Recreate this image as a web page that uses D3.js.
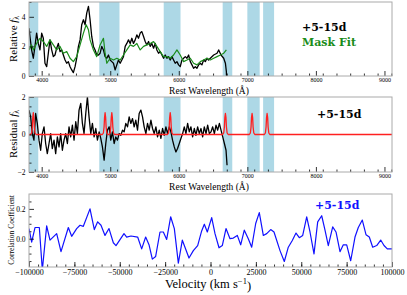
<!DOCTYPE html>
<html>
<head>
<meta charset="utf-8">
<script src="https://cdn.jsdelivr.net/npm/d3@7"></script>
<style>
  body { margin: 0; background: #fff; }
  svg { display: block; font-family: 'Liberation Serif', serif; }
  .spine { fill: none; stroke: #aaa; stroke-width: 1; }
  .axis .domain { display: none; }
  .axis line { stroke: #000; stroke-width: 0.8; }
  .axis text { fill: #000; font-family: 'Liberation Serif', serif; }
  .tag { font-family: 'DejaVu Serif', serif; font-weight: bold; font-size: 11px; }
</style>
</head>
<body>
<svg id="chart" width="407" height="295"></svg>
<script>
// masked regions (Angstrom)
const maskBands = [[3815, 3950], [4840, 5135], [5780, 6025], [6640, 6780], [7000, 7180], [7230, 7390]]

// observed spectrum, relative f_lambda
const spectrum = [
  [3814, 3.23], [3829, 2.67], [3853, 1.76], [3878, 1.2], [3902, 2.0], [3926, 2.9], [3951, 2.2], [3975, 1.76],
  [4000, 2.9], [4024, 2.55], [4048, 0.86], [4073, 0.63], [4097, 1.54], [4121, 2.44], [4146, 1.76], [4170, 1.31],
  [4194, 1.42], [4219, 1.88], [4243, 2.2], [4268, 1.65], [4292, 1.76], [4316, 1.42], [4341, 1.08], [4365, 0.86],
  [4389, 0.97], [4414, 0.63], [4438, 0.41], [4462, 0.23], [4487, 0.63], [4511, 1.2], [4536, 2.0], [4560, 2.44],
  [4584, 3.46], [4609, 3.8], [4633, 3.46], [4657, 4.25], [4682, 4.7], [4706, 3.8], [4730, 2.67], [4755, 2.0],
  [4779, 1.76], [4803, 1.42], [4828, 1.42], [4852, 1.54], [4877, 2.0], [4901, 1.76], [4925, 1.31], [4950, 1.2],
  [4974, 1.42], [4998, 1.08], [5023, 0.97], [5047, 0.86], [5071, 0.41], [5096, 0.75], [5120, 1.08], [5145, 0.86],
  [5169, 1.08], [5193, 1.31], [5218, 2.0], [5242, 2.2], [5266, 2.44], [5291, 2.2], [5315, 2.55], [5339, 2.2],
  [5364, 2.44], [5388, 2.78], [5412, 2.55], [5437, 2.9], [5461, 3.0], [5486, 2.67], [5510, 2.33], [5534, 2.1],
  [5559, 2.33], [5583, 2.0], [5607, 2.2], [5632, 1.88], [5656, 2.2], [5680, 1.76], [5705, 1.54], [5729, 1.65],
  [5754, 1.42], [5778, 1.2], [5802, 1.42], [5827, 1.2], [5851, 1.31], [5875, 1.08], [5900, 1.31], [5924, 1.08],
  [5948, 0.86], [5973, 0.97], [5997, 0.75], [6021, 0.63], [6046, 1.08], [6070, 1.2], [6095, 1.31], [6119, 1.2],
  [6143, 1.42], [6168, 0.97], [6192, 0.75], [6216, 0.52], [6241, 0.63], [6265, 0.52], [6289, 0.75], [6314, 0.86],
  [6338, 0.75], [6362, 1.08], [6387, 0.97], [6411, 1.2], [6435, 1.08], [6460, 1.2], [6509, 1.42], [6558, 1.54],
  [6582, 1.76], [6616, 1.42], [6655, 1.2], [6680, 0.86], [6694, 0.3], [6697, -0.2]
]

// mask fit
const maskFit = [
  [3814, 1.76], [3853, 2.1], [3878, 1.76], [3926, 2.2], [3975, 2.55], [4024, 2.33], [4073, 2.0], [4121, 2.44],
  [4170, 2.1], [4219, 1.76], [4268, 2.0], [4316, 1.54], [4365, 1.65], [4414, 1.2], [4462, 0.97], [4511, 1.31],
  [4560, 2.1], [4609, 2.9], [4649, 3.46], [4682, 3.12], [4706, 2.44], [4755, 1.76], [4803, 1.31], [4852, 2.1],
  [4901, 2.55], [4925, 1.54], [4950, 0.86], [4998, 1.2], [5047, 1.08], [5096, 1.2], [5145, 1.08], [5193, 1.42],
  [5242, 1.76], [5291, 2.1], [5339, 2.0], [5388, 2.2], [5437, 1.76], [5486, 2.0], [5534, 2.1], [5583, 2.2],
  [5632, 2.33], [5680, 2.0], [5729, 1.65], [5778, 1.31], [5827, 1.31], [5875, 1.2], [5924, 1.42], [5973, 1.76],
  [6021, 1.42], [6070, 0.97], [6119, 1.08], [6168, 1.2], [6216, 0.86], [6265, 0.75], [6314, 0.97], [6362, 1.08],
  [6411, 1.2], [6460, 1.08], [6509, 1.2], [6558, 1.31], [6607, 1.42], [6656, 1.54], [6694, 1.76]
]

// residual f_lambda
const residual = [
  [3814, 1.3], [3839, 0.94], [3863, 0.05], [3887, -0.3], [3912, 1.12], [3936, 0.59], [3961, -0.3], [3985, -0.84],
  [4009, 0.05], [4034, 0.41], [4058, -0.48], [4082, -1.02], [4107, -0.48], [4131, 0.05], [4155, -0.75], [4180, -0.3],
  [4204, -1.02], [4229, -0.13], [4253, -0.66], [4277, 0.05], [4302, -0.84], [4326, -0.3], [4350, 0.05], [4375, -0.48],
  [4399, 0.41], [4423, -0.13], [4448, 0.5], [4472, -0.3], [4497, 0.68], [4521, 0.05], [4545, 1.3], [4570, 1.66],
  [4594, 0.59], [4618, 0.05], [4643, 1.12], [4667, 2.0], [4691, 0.94], [4716, 0.05], [4740, 0.59], [4765, -0.13],
  [4789, 0.32], [4813, -0.3], [4838, 0.14], [4862, -0.21], [4886, -0.66], [4911, -1.37], [4935, -0.48], [4959, 0.23],
  [4984, 0.41], [5008, -0.3], [5032, 0.14], [5057, -0.48], [5081, -0.13], [5105, -0.3], [5130, 0.05], [5154, -0.04],
  [5179, 0.23], [5203, 0.14], [5227, 0.59], [5252, 0.41], [5276, 0.94], [5300, 0.59], [5325, 0.85], [5349, 0.41],
  [5373, 0.76], [5398, 0.23], [5422, 1.12], [5447, 1.3], [5471, 0.94], [5495, 0.41], [5520, 0.05], [5544, 0.59],
  [5568, 0.23], [5593, 0.76], [5617, 0.32], [5641, 0.05], [5666, 0.41], [5690, -0.13], [5715, 0.23], [5739, -0.21],
  [5763, 0.32], [5788, -0.04], [5812, 0.41], [5836, 0.05], [5861, 0.41], [5885, 0.14], [5909, -0.3], [5934, -0.66],
  [5958, -0.93], [5982, -0.75], [6007, -0.48], [6031, -0.21], [6056, 0.05], [6080, 0.41], [6104, 0.05], [6129, 0.59],
  [6153, 0.14], [6177, 0.41], [6202, -0.13], [6226, 0.32], [6250, -0.04], [6275, 0.41], [6299, 0.05], [6324, 0.32],
  [6348, -0.13], [6372, 0.41], [6397, 0.05], [6421, 0.5], [6446, 0.05], [6470, 0.14], [6494, 0.41], [6519, 0.05],
  [6543, 0.5], [6567, 0.23], [6592, 0.59], [6616, 0.23], [6641, -0.13], [6665, -0.48], [6689, -0.84], [6704, -1.64]
]

// line template used for the cross-correlation
const template = [
  [3815, 0], [3838, 0], [3853, 0.08], [3863, 0.4], [3870, 0.9], [3878, 1.16], [3886, 0.9], [3893, 0.4], [3903, 0.08], [3918, 0],
  [4885, 0], [4900, 0.08], [4910, 0.4], [4917, 0.9], [4925, 1.16], [4933, 0.9], [4940, 0.4], [4950, 0.08], [4965, 0],
  [4983, 0], [4998, 0.08], [5008, 0.4], [5015, 0.9], [5023, 1.16], [5031, 0.9], [5038, 0.4], [5048, 0.08], [5063, 0],
  [5835, 0], [5850, 0.08], [5860, 0.4], [5867, 0.9], [5875, 1.16], [5883, 0.9], [5890, 0.4], [5900, 0.08], [5915, 0],
  [6640, 0], [6655, 0.08], [6665, 0.4], [6672, 0.9], [6680, 1.12], [6688, 0.9], [6695, 0.4], [6705, 0.08], [6720, 0],
  [7029, 0], [7044, 0.08], [7054, 0.4], [7061, 0.9], [7069, 1.12], [7077, 0.9], [7084, 0.4], [7094, 0.08], [7109, 0],
  [7248, 0], [7263, 0.08], [7273, 0.4], [7280, 0.9], [7288, 1.12], [7296, 0.9], [7303, 0.4], [7313, 0.08], [7328, 0],
  [9110, 0]
]

// velocity (km/s) vs correlation coefficient
const correlation = [
  [-100000, 0.068], [-98530, -0.023], [-96694, 0.075], [-94308, 0.075], [-92655, -0.21], [-90266, 0.086],
  [-88430, -0.01], [-84756, 0.034], [-82369, -0.087], [-78329, 0.075], [-76493, 0.016], [-73738, 0.068],
  [-71901, 0.09], [-70065, 0.083], [-66391, 0.2], [-64004, 0.061], [-62168, 0.113], [-60331, 0.09],
  [-58127, 0.022], [-55923, 0.068], [-53536, -0.027], [-52066, -0.046], [-47658, 0.034], [-46189, 0.011],
  [-43802, 0.018], [-40129, 0.011], [-37925, -0.068], [-35721, 0.011], [-33884, -0.04], [-32048, -0.137],
  [-30211, -0.119], [-27824, 0.045], [-25987, 0.045], [-24151, -0.005], [-21947, 0.147], [-19927, 0.068],
  [-17723, -0.164], [-15519, -0.01], [-11846, -0.13], [-9458, -0.08], [-7071, -0.046], [-4867, 0.052],
  [-3398, 0.097], [-1763, 0.045], [661, 0.141], [2479, 0.034], [4683, -0.061], [6501, -0.046],
  [8540, 0.068], [10744, 0.0], [12562, 0.004], [14766, 0.022], [16639, -0.041], [18623, 0.057],
  [20826, 0.0], [22700, -0.057], [24904, 0.102], [26887, 0.175], [29091, 0.022], [30964, 0.034],
  [33168, 0.061], [34986, 0.045], [38292, -0.08], [40661, -0.153], [42865, -0.057], [45069, -0.012],
  [47107, 0.038], [48926, 0.007], [50799, 0.022], [53003, 0.147], [54821, 0.045], [57025, -0.102],
  [59063, 0.113], [61267, 0.154], [63085, 0.057], [64904, -0.046], [67328, 0.079], [69146, 0.045],
  [71350, -0.087], [73168, -0.041], [75041, -0.041], [77245, -0.148], [79614, 0.011], [81433, 0.075],
  [83636, 0.125], [85675, 0.027], [87493, 0.011], [89366, -0.057], [91570, -0.046], [93774, -0.009],
  [95592, -0.046], [97410, -0.068], [100000, -0.068]
]

// ticks
const waveTicks = [4000, 5000, 6000, 7000, 8000, 9000]
const waveMinor = d3.range(3900, 9101, 200)
const fluxTicks = [0, 2, 4]
const fluxMinor = [1, 3, 5]
const residTicks = [-2, 0, 2]
const residMinor = [-1.5, -1, -0.5, 0.5, 1, 1.5]
const velTicks = [-100000, -75000, -50000, -25000, 0, 25000, 50000, 75000, 100000]
const velMinor = d3.range(-95000, 100000, 5000)
const corrTicks = [0.0, 0.2]
const corrMinor = [-0.15, -0.1, -0.05, 0.05, 0.1, 0.15, 0.25]

const epochLabel = '+5-15d'

const svg = d3.select('#chart')
const left = 29
const right = 392
const minus = s => String(s).replace('-', '\u2212')

const xWave = d3.scaleLinear().domain([3815, 9110]).range([left, right])
const xVel = d3.scaleLinear().domain([-100000, 100000]).range([left, right])

const makePanel = (id, x, y, xTicks, xMinor, xFmt, xFont, yTicks, yMinor, yFmt, yFont) => {
  const [y0, y1] = y.range()
  const defs = svg.append('defs')
  defs.append('clipPath').attr('id', 'clip-' + id)
    .append('rect').attr('x', left).attr('y', y1).attr('width', right - left).attr('height', y0 - y1)

  const g = svg.append('g')
  const plot = g.append('g').attr('clip-path', `url(#clip-${id})`)

  g.append('g').attr('class', 'axis')
    .attr('transform', `translate(0,${y0})`)
    .call(d3.axisBottom(x).tickValues(xMinor).tickSizeInner(-2.5).tickSizeOuter(0).tickFormat(''))
  g.append('g').attr('class', 'axis')
    .attr('transform', `translate(0,${y0})`)
    .call(d3.axisBottom(x).tickValues(xTicks).tickSizeInner(-5).tickSizeOuter(0).tickPadding(2).tickFormat(xFmt))
    .selectAll('text').style('font-size', xFont + 'px')

  g.append('g').attr('class', 'axis')
    .attr('transform', `translate(${left},0)`)
    .call(d3.axisLeft(y).tickValues(yMinor).tickSizeInner(-2.5).tickSizeOuter(0).tickFormat(''))
  g.append('g').attr('class', 'axis')
    .attr('transform', `translate(${left},0)`)
    .call(d3.axisLeft(y).tickValues(yTicks).tickSizeInner(-5).tickSizeOuter(0).tickPadding(3.5).tickFormat(yFmt))
    .selectAll('text').style('font-size', yFont + 'px')

  g.append('rect').attr('class', 'spine')
    .attr('x', left).attr('y', y1).attr('width', right - left).attr('height', y0 - y1)

  return { g, plot }
}

const drawBands = (plot, y) => {
  plot.selectAll('.band').data(maskBands).enter()
    .append('rect')
    .attr('class', 'band')
    .attr('x', d => xWave(d[0]))
    .attr('width', d => xWave(d[1]) - xWave(d[0]))
    .attr('y', y.range()[1])
    .attr('height', y.range()[0] - y.range()[1])
    .attr('fill', '#add8e6')
}

const drawLine = (plot, data, x, y, color, w) => {
  const line = d3.line().x(d => x(d[0])).y(d => y(d[1]))
  plot.append('path')
    .datum(data)
    .attr('d', line)
    .attr('fill', 'none')
    .attr('stroke', color)
    .attr('stroke-width', w)
    .attr('stroke-linejoin', 'round')
}

const yLabel = (text, sub, cx, cy, size) => {
  const t = svg.append('text')
    .attr('transform', `translate(${cx},${cy}) rotate(-90)`)
    .attr('text-anchor', 'middle')
    .style('font-size', size + 'px')
  t.append('tspan').text(text)
  if (sub) {
    t.append('tspan').style('font-style', 'italic').text('f')
    t.append('tspan').attr('dy', '0.3em').style('font-size', (size * 0.7) + 'px').text('λ')
  }
}

const xLabelWave = ty => {
  svg.append('text')
    .attr('x', 209).attr('y', ty)
    .attr('text-anchor', 'middle')
    .style('font-size', '9.5px')
    .text('Rest Wavelength (Å)')
}

// panel 1: spectrum and mask fit
const yFlux = d3.scaleLinear().domain([0, 5]).range([76, 2])
const p1 = makePanel('p1', xWave, yFlux, waveTicks, waveMinor, d3.format('d'), 6, fluxTicks, fluxMinor, d3.format('d'), 7.5)
drawBands(p1.plot, yFlux)
drawLine(p1.plot, spectrum, xWave, yFlux, '#000', 1.3)
drawLine(p1.plot, maskFit, xWave, yFlux, '#1a8c1a', 1.2)
svg.append('text').attr('class', 'tag').attr('x', 302).attr('y', 31).attr('fill', '#000').text(epochLabel)
svg.append('text').attr('class', 'tag').attr('x', 302).attr('y', 45.5).attr('fill', '#1a8c1a').text('Mask Fit')
xLabelWave(94)
yLabel('Relative ', true, 16.5, 39, 11)

// panel 2: residual and template
const yResid = d3.scaleLinear().domain([-2, 2]).range([172, 97])
const p2 = makePanel('p2', xWave, yResid, waveTicks, waveMinor, d3.format('d'), 6, residTicks, residMinor, d => minus(d), 7.5)
drawBands(p2.plot, yResid)
drawLine(p2.plot, residual, xWave, yResid, '#000', 1.3)
drawLine(p2.plot, template, xWave, yResid, '#ff2020', 1.3)
svg.append('text').attr('class', 'tag').attr('x', 317).attr('y', 117.5).attr('fill', '#000').text(epochLabel)
xLabelWave(190)
yLabel('Residual ', true, 16.5, 134, 11)

// panel 3: cross-correlation
const yCorr = d3.scaleLinear().domain([-0.19, 0.3]).range([267, 194])
const p3 = makePanel('p3', xVel, yCorr, velTicks, velMinor, d => minus(d), 8, corrTicks, corrMinor, d3.format('.1f'), 7.5)
drawLine(p3.plot, correlation, xVel, yCorr, '#1010ff', 1.2)
svg.append('text').attr('class', 'tag').attr('x', 315).attr('y', 209).attr('fill', '#1010ff').text(epochLabel)
yLabel('Correlation Coefficient', false, 13.5, 230, 7.5)

const vl = svg.append('text')
  .attr('x', 208).attr('y', 288)
  .attr('text-anchor', 'middle')
  .style('font-size', '12.5px')
vl.append('tspan').text('Velocity (km s')
vl.append('tspan').attr('dy', '-0.45em').style('font-size', '8.5px').text('\u22121')
vl.append('tspan').attr('dy', '0.45em').text(')')
</script>
</body>
</html>
